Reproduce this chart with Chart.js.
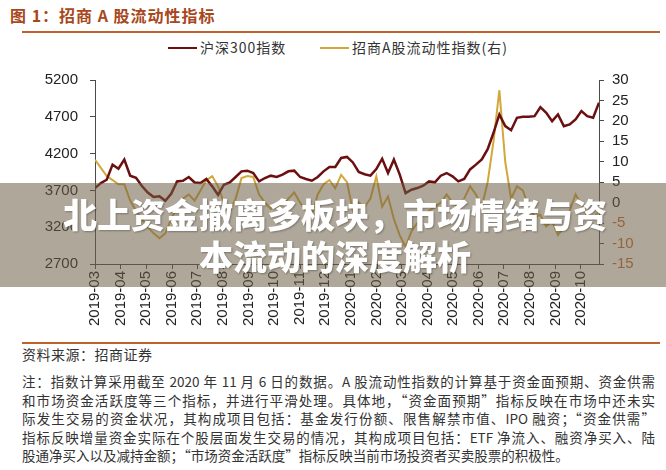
<!DOCTYPE html>
<html>
<head>
<meta charset="utf-8">
<script src="https://cdn.jsdelivr.net/npm/chart.js@4.4.1/dist/chart.umd.min.js"></script>
<style>
  body { margin: 0; width: 666px; height: 470px; background: #fff; position: relative; overflow: hidden;
         font-family: "Noto Sans CJK SC", sans-serif; }
  #title { position: absolute; left: 10px; top: 3px; font-size: 16px; letter-spacing: 1px; font-weight: 700; color: #a8471c; }
  .rule { position: absolute; left: 22px; width: 638px; height: 2px; background: #c0622c; }
  .leg { position: absolute; top: 37px; font-size: 14px; letter-spacing: 1px; color: #333; }
  .leg i { display: inline-block; width: 29px; height: 2px; vertical-align: middle; margin-right: 3px; position: relative; top: -1px; }
  #wrap { position: absolute; left: 0; top: 0; width: 666px; height: 340px; }
  #banner { position: absolute; left: 0; top: 183px; width: 666px; height: 104px; background: rgba(110, 95, 70, 0.55); }
  #bannerText { position: absolute; left: 55px; top: 193px; width: 560px; text-align: center; color: #fff;
                font-size: 34px; line-height: 42px; font-weight: 900; text-shadow: 1px 1px 2px rgba(0,0,0,0.3); }
  #source { position: absolute; left: 22px; top: 344px; font-size: 14px; letter-spacing: 0.5px; color: #333; }
  #note { position: absolute; left: 22px; top: 372px; width: 633px; font-size: 13.5px; line-height: 18.5px; color: #333; }
  #note div { text-align: justify; text-align-last: justify; }
  #note div.last { text-align-last: left; }
</style>
</head>
<body>
<div id="title">图 1：招商 A 股流动性指标</div>
<div class="rule" style="top:31px"></div>
<div class="leg" style="left:168px"><i style="background:#6b0f10"></i>沪深300指数</div>
<div class="leg" style="left:320px"><i style="background:#d2a83c"></i>招商A股流动性指数(右)</div>
<div id="wrap"><canvas id="c"></canvas></div>
<div class="rule" style="top:342px"></div>
<div id="source">资料来源：招商证券</div>
<div id="note">
  <div>注：指数计算采用截至 2020 年 11 月 6 日的数据。A 股流动性指数的计算基于资金面预期、资金供需</div>
  <div>和市场资金活跃度等三个指标，并进行平滑处理。具体地，“资金面预期”指标反映在市场中还未实</div>
  <div>际发生交易的资金状况，其构成项目包括：基金发行份额、限售解禁市值、IPO 融资；“资金供需”</div>
  <div>指标反映增量资金实际在个股层面发生交易的情况，其构成项目包括：ETF 净流入、融资净买入、陆</div>
  <div class="last">股通净买入以及减持金额；“市场资金活跃度”指标反映当前市场投资者买卖股票的积极性。</div>
</div>
<div id="banner"></div>
<div id="bannerText">北上资金撤离多板块，市场情绪与资本流动的深度解析</div>

<script>
// weekly data, first week 2019-03-01
const startDate = '2019-03-01';
const monthLabels = ['2019-03','2019-04','2019-05','2019-06','2019-07','2019-08','2019-09','2019-10','2019-11','2019-12',
                     '2020-01','2020-02','2020-03','2020-04','2020-05','2020-06','2020-07','2020-08','2020-09','2020-10'];

const hs300 = [3732,3800,3845,4050,3995,4118,3900,3870,3760,3670,
               3610,3620,3560,3655,3822,3832,3882,3808,3800,3855,
               3755,3640,3777,3808,3882,3959,3968,3936,3822,3868,
               3900,3882,3914,3959,3968,3882,3855,3832,3882,3959,
               4019,4019,4141,4155,4080,3950,3920,3900,3990,4130,
               3936,4118,3914,3664,3709,3732,3764,3822,3810,3900,
               3936,3891,3822,3855,3985,4050,4120,4260,4483,4732,
               4573,4518,4687,4700,4700,4709,4832,4755,4641,4732,
               4573,4596,4664,4777,4709,4687,4892];

const liquidity = [10.5,8.5,6.5,5.5,4.5,4.5,0.5,-2,-4,-6,
                   -7.5,-8.7,-7.5,-4,-1,1,2,0.5,3,5.5,
                   6.5,4,0,-2,1,6,6.5,6.3,2,0,
                   -1.5,-1,-0.5,1,2.5,0,-2,-3,2,4.5,
                   5.5,3.5,6.8,5,-2,0,-1,1,6.4,-1,
                   1.5,-4,-8,-10.8,-7,-5,-3,-2,-1,0,
                   2,0,-1,1,4,2,-1,5,15,27.5,
                   10,1,4,3,-1,-3.4,-3,-5.8,-4.5,-7.9,
                   -6,-2,2,-0.5,-3.4,-4,-2];

const DAY = 86400000;
const t0 = Date.parse(startDate);
const dayOf = s => Math.round((Date.parse(s) - t0) / DAY);
const monthTicks = monthLabels.map(m => dayOf(m + '-01'));
const pts = arr => arr.map((v, i) => ({ x: i * 7, y: v }));

const axisColor = '#4a4a4a';
const tickFont = { family: 'Liberation Sans, Arial, sans-serif', size: 15 };

new Chart(document.getElementById('c'), {
  type: 'line',
  data: {
    datasets: [
      { label: '沪深300指数', data: pts(hs300), yAxisID: 'y', borderColor: '#6b0f10', borderWidth: 2.5,
        pointRadius: 0, tension: 0, order: 1 },
      { label: '招商A股流动性指数(右)', data: pts(liquidity), yAxisID: 'y1', borderColor: '#d2a83c', borderWidth: 2,
        pointRadius: 0, tension: 0, order: 2 }
    ]
  },
  options: {
    responsive: true,
    maintainAspectRatio: false,
    animation: false,
    layout: { padding: { top: 80, left: 0, right: 0, bottom: 0 } },
    plugins: { legend: { display: false }, tooltip: { enabled: false } },
    scales: {
      x: {
        type: 'linear', min: 0, max: (hs300.length - 1) * 7,
        afterBuildTicks: ax => { ax.ticks = monthTicks.map(v => ({ value: v })); },
        afterFit: ax => { ax.height = 76; },
        grid: { drawOnChartArea: false, tickLength: 5, color: axisColor },
        border: { color: axisColor },
        ticks: { minRotation: 90, maxRotation: 90, padding: 2, color: '#222', font: tickFont, autoSkip: false,
                 callback: v => monthLabels[monthTicks.indexOf(v)] }
      },
      y: {
        position: 'left', min: 2700, max: 5200,
        afterFit: ax => { ax.width = 95; },
        grid: { drawOnChartArea: false, tickLength: 5, color: axisColor },
        border: { color: axisColor },
        ticks: { stepSize: 500, padding: 12, color: '#222', font: tickFont, autoSkip: false,
                 callback: v => String(v) }
      },
      y1: {
        position: 'right', min: -15, max: 30,
        afterFit: ax => { ax.width = 67; },
        grid: { drawOnChartArea: false, tickLength: 5, color: axisColor },
        border: { color: axisColor },
        ticks: { stepSize: 5, padding: 8, font: tickFont, autoSkip: false,
                 callback: v => String(v),
                 color: c => (c.tick && c.tick.value < 0) ? '#c8692f' : '#222' }
      }
    }
  }
});
</script>
</body>
</html>
